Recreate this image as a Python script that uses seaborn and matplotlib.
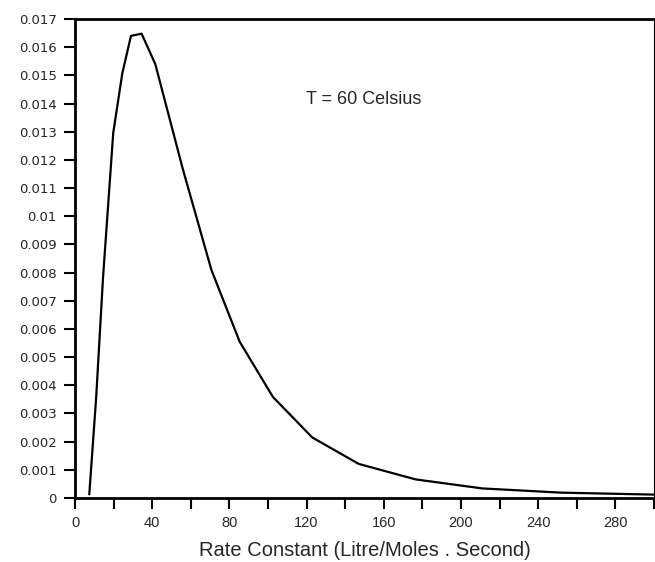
import matplotlib
matplotlib.use("Agg")
import matplotlib.pyplot as plt
import seaborn as sns
import pandas as pd
from matplotlib.ticker import MultipleLocator

rate_constant = [7.4, 11.0, 14.5, 19.8, 24.5, 29.0, 34.5, 41.6, 56.0, 70.7, 85.3,
                 102.5, 122.9, 147.0, 176.5, 211.0, 252.0, 300.0]
frequency = [0.00013, 0.0036, 0.0078, 0.01295, 0.01507, 0.01640, 0.01648, 0.01540,
             0.01164, 0.00809, 0.00555, 0.00359, 0.00215, 0.00121, 0.00066,
             0.00034, 0.00019, 0.00012]

y_ticks = [0.000, 0.001, 0.002, 0.003, 0.004, 0.005, 0.006, 0.007, 0.008,
           0.009, 0.010, 0.011, 0.012, 0.013, 0.014, 0.015, 0.016, 0.017]
y_tick_labels = ["0", "0.001", "0.002", "0.003", "0.004", "0.005", "0.006",
                 "0.007", "0.008", "0.009", "0.01", "0.011", "0.012", "0.013",
                 "0.014", "0.015", "0.016", "0.017"]
x_ticks = [0, 40, 80, 120, 160, 200, 240, 280]
x_label = "Rate Constant (Litre/Moles . Second)"
annotation = "T = 60 Celsius"

sns.set_style("white")
plt.rcParams["font.family"] = ["Liberation Sans", "DejaVu Sans"]

df = pd.DataFrame({"k": rate_constant, "f": frequency})

fig = plt.figure(figsize=(6.55, 5.62), dpi=100)
ax = fig.add_axes([75 / 655, 1 - 498 / 562, (654 - 75) / 655, (498 - 19) / 562])

sns.lineplot(data=df, x="k", y="f", ax=ax, color="black", linewidth=1.6)

ax.set_xlim(0, 300)
ax.set_ylim(0, 0.017)
ax.set_xticks(x_ticks)
ax.set_xticklabels([str(t) for t in x_ticks], fontsize=10.5)
ax.xaxis.set_minor_locator(MultipleLocator(20))
ax.set_yticks(y_ticks)
ax.set_yticklabels(y_tick_labels, fontsize=9.5, family=["DejaVu Sans"])

ax.tick_params(axis="both", which="both", direction="out", length=8, width=1.5,
               color="black", bottom=True, left=True)
ax.tick_params(axis="y", pad=5)
ax.tick_params(axis="x", pad=5)

for side in ["left", "bottom", "top", "right"]:
    ax.spines[side].set_visible(True)
    ax.spines[side].set_color("black")
ax.spines["left"].set_linewidth(2)
ax.spines["bottom"].set_linewidth(2)
ax.spines["top"].set_linewidth(2)
ax.spines["right"].set_linewidth(0.8)

ax.set_xlabel(x_label, fontsize=14.5, labelpad=8)
ax.set_ylabel("")

ax.text(119.8, 0.01416, annotation, fontsize=13, va="center", ha="left")

fig.savefig("out.png", dpi=100)
